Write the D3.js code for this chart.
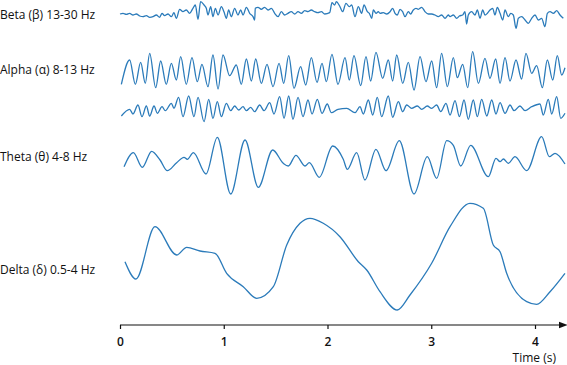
<!DOCTYPE html>
<html>
<head>
<meta charset="utf-8">
<script src="https://cdn.jsdelivr.net/npm/d3@7"></script>
<style>
  body { margin: 0; background: #fff; }
  svg text { font-family: "Open Sans", "Noto Sans", sans-serif; fill: #111; }
</style>
</head>
<body>
<div id="chart"></div>
<script>
const w = 567;
const h = 365;

// band labels
const bandLabels = ["Beta (\u03b2) 13-30 Hz", "Alpha (\u03b1) 8-13 Hz", "Theta (\u03b8) 4-8 Hz", "Delta (\u03b4) 0.5-4 Hz"];
const tickValues = [0, 1, 2, 3, 4];
const axisTitle = "Time (s)";

// [time (s), amplitude]
const beta = [
  [0.000, 0], [0.029, 0.7], [0.061, -0.3], [0.093, 0.7], [0.125, -1], [0.157, 0], [0.190, -2], [0.222, -2.7],
  [0.254, -1.7], [0.286, -3.3], [0.318, -2.7], [0.350, -1], [0.382, -3.3], [0.405, 0.7], [0.430, -1.7], [0.463, 0],
  [0.495, -2.7], [0.520, 1.3], [0.543, -4.3], [0.575, 4.7], [0.607, 2.3], [0.639, 4], [0.671, 0.7], [0.703, 5.7],
  [0.726, 9], [0.752, -5.3], [0.777, 12.3], [0.810, 9], [0.832, 5.7], [0.848, -1], [0.874, 7.3], [0.896, -2.7],
  [0.919, 5.7], [0.945, -1], [0.977, 7.3], [1.002, 2.3], [1.025, -4.3], [1.047, 4], [1.073, -2.7], [1.105, 5.7],
  [1.137, -1], [1.163, 4], [1.186, -1], [1.218, 6.7], [1.250, 0.7], [1.282, -2.7], [1.298, -6], [1.304, 5.7],
  [1.330, 6.7], [1.362, 4.7], [1.394, 6.7], [1.427, 4], [1.459, 5.7], [1.491, 0.7], [1.523, -2.7], [1.555, 2.3],
  [1.587, -1], [1.619, 0.7], [1.651, 2.3], [1.684, 0], [1.716, 2.3], [1.748, 0.7], [1.780, 3.3], [1.812, 2.3],
  [1.844, 4], [1.876, 2.3], [1.908, 1.3], [1.941, 2.3], [1.973, 0], [2.021, 1.3], [2.043, 11.3], [2.069, 9],
  [2.085, 12.3], [2.117, 8], [2.146, 2.3], [2.178, 10.7], [2.210, 7.3], [2.233, 9], [2.265, -2.7], [2.297, 7.3],
  [2.329, 0.7], [2.352, 9], [2.384, 2.3], [2.403, 0.7], [2.426, -4.3], [2.442, 4], [2.468, 0.7], [2.490, 2.3],
  [2.506, 0.7], [2.538, 1.3], [2.571, 0], [2.603, 2.3], [2.628, 5.7], [2.651, 0.7], [2.673, -1], [2.699, 4.7],
  [2.724, 2.3], [2.747, -2.7], [2.779, 2.3], [2.801, 0], [2.827, 4], [2.853, 5.7], [2.875, 4.7], [2.908, 6.7],
  [2.940, 2.3], [2.972, 0], [3.004, 0], [3.036, -1], [3.068, -2.7], [3.100, -1], [3.133, -4.3], [3.165, -1],
  [3.181, -2.7], [3.213, -1], [3.245, -4.3], [3.271, -2], [3.303, -1], [3.325, 2.3], [3.341, -10], [3.357, -1],
  [3.389, 2.3], [3.422, -1], [3.444, 4], [3.470, -4.3], [3.496, 4], [3.518, -1], [3.541, 0.7], [3.566, 4],
  [3.592, 5.7], [3.614, -1], [3.637, 6.7], [3.663, 0.7], [3.689, -6], [3.711, 4], [3.743, -2.7], [3.766, 0.7],
  [3.791, -1], [3.817, -14.3], [3.840, -4.3], [3.872, -2.7], [3.904, -6], [3.936, -9.3], [3.968, -4.3], [4.000, -1],
  [4.032, -6], [4.064, -4.3], [4.096, -12.7], [4.119, 0.7], [4.145, 2.3], [4.177, 0.7], [4.209, 3.3], [4.241, -1],
  [4.273, -4.3]
];

const alpha1 = [
  [0.013, -14.3], [0.093, 10], [0.148, -14.3], [0.199, 7.7], [0.244, -13.3], [0.286, 16.7], [0.344, -17.7], [0.392, 9],
  [0.446, -14.3], [0.495, 6.7], [0.543, -10], [0.585, 13.3], [0.639, -14.3], [0.694, 12.3], [0.745, -11.7], [0.790, 5.7],
  [0.848, -16.7], [0.896, 15], [0.945, -19], [0.993, 15], [1.057, -5.7], [1.121, 5], [1.169, -14.3], [1.218, 11],
  [1.266, -11], [1.308, 11], [1.362, -13.3], [1.417, 5.7], [1.475, -16.7], [1.533, 6.7], [1.578, -13.3], [1.626, 14.3],
  [1.677, -18.3], [1.741, 3.3], [1.790, -15], [1.844, 12.3], [1.899, -12.3], [1.947, 6.7], [1.989, -11.7], [2.043, 15.7],
  [2.101, -14.3], [2.169, 12.3], [2.210, -10], [2.255, 14.3], [2.320, -15.7], [2.371, 13.3], [2.416, -11], [2.467, 17.7],
  [2.532, -8.3], [2.586, 10], [2.628, -11], [2.667, 15], [2.725, -13.3], [2.779, 7.7], [2.834, -20], [2.892, 13.3],
  [2.949, -11.7], [3.004, 9], [3.052, -17.7], [3.100, 16.7], [3.155, -16.7], [3.213, 12.3], [3.251, -7.7], [3.303, 5.7],
  [3.351, -17.7], [3.399, 18.3], [3.454, -13.3], [3.518, 11.7], [3.566, -8.3], [3.621, 11], [3.663, -13.3], [3.711, 12.3],
  [3.759, -11], [3.817, 10], [3.871, -9], [3.913, 16.7], [3.968, -3.3], [4.016, 4.3], [4.071, -17.7], [4.119, 10],
  [4.171, -10], [4.215, 14.3], [4.257, -5], [4.289, 2.3]
];

const alpha2 = [
  [0.013, -8], [0.093, -1.3], [0.125, -6], [0.173, 3], [0.212, -8.7], [0.254, 2], [0.286, -8], [0.328, 2],
  [0.360, -5.3], [0.405, 1.3], [0.437, -2.7], [0.495, 4.7], [0.520, -0.3], [0.565, 10.7], [0.607, -8.7], [0.662, 12],
  [0.713, -8.7], [0.752, 10.7], [0.810, -13.7], [0.855, 8.7], [0.896, -10.3], [0.938, 6.3], [0.977, -8.7], [1.025, 4.7],
  [1.067, -2.7], [1.105, 2], [1.144, -2], [1.186, 1.3], [1.218, -2.7], [1.260, 0.7], [1.298, -3.7], [1.346, 3],
  [1.388, -2.7], [1.443, 5.3], [1.484, -6], [1.539, 11.3], [1.581, -10.3], [1.626, 12], [1.667, -11.3], [1.716, 10.7],
  [1.764, -8.7], [1.812, 8], [1.851, -6], [1.902, 8.7], [1.947, -5.3], [1.998, 4], [2.037, -4.7], [2.101, -1.3],
  [2.185, -0.3], [2.265, -4.7], [2.313, 1.3], [2.345, -6], [2.393, 8], [2.436, -7], [2.480, 10.7], [2.522, -8.7],
  [2.586, 12], [2.628, -9.3], [2.683, 6.3], [2.725, -3.7], [2.763, 3], [2.811, -0.3], [2.866, 2], [2.908, -1.3],
  [2.962, 2], [3.004, -0.3], [3.052, 3], [3.091, -3.7], [3.142, 4.7], [3.181, -7], [3.229, 7.3], [3.271, -8.7],
  [3.316, 8], [3.357, -11.3], [3.405, 8], [3.444, -8.7], [3.486, 8.7], [3.535, -8], [3.583, 8], [3.624, -6],
  [3.663, 5.3], [3.711, -5.3], [3.759, 3], [3.798, -2.7], [3.855, 2], [3.904, -2.7], [3.968, 1.3], [4.048, 4],
  [4.080, -7], [4.128, 8.7], [4.161, -6], [4.209, 11.3], [4.248, -10.3], [4.289, -5.3]
];

const theta = [
  [0.039, -6.7], [0.129, 7.3], [0.215, -7.3], [0.305, 8.7], [0.386, 0], [0.456, -10.7], [0.546, -2.7], [0.617, 2.7],
  [0.649, 0.7], [0.707, 7.3], [0.829, -14], [0.938, 22.7], [1.067, -34], [1.205, 20], [1.333, -27.3], [1.472, 10],
  [1.574, -3.3], [1.622, -6], [1.696, 4.7], [1.783, -6], [1.825, -2.7], [1.921, -17.3], [2.050, 14], [2.152, 0.7],
  [2.191, -9.3], [2.281, 7.3], [2.361, -20], [2.467, 10.7], [2.564, -10.7], [2.692, 19.3], [2.834, -34], [2.962, 3.3],
  [3.052, -18.3], [3.149, 19.3], [3.213, 14.7], [3.284, -6], [3.380, 14.7], [3.550, -16.7], [3.624, 1.7], [3.663, -1.7],
  [3.695, 1], [3.743, -3.3], [3.807, 3.3], [3.920, -10.7], [4.064, 23.3], [4.138, 3.3], [4.193, 6.7], [4.289, -4]
];

const delta = [
  [0.048, -1.7], [0.154, -19], [0.337, 33.3], [0.547, 5], [0.643, 12.7], [0.771, 9], [0.916, 6.7], [1.028, -13.3],
  [1.188, -26.7], [1.318, -38.3], [1.478, -26.7], [1.607, 15], [1.735, 36.7], [1.831, 41.7], [1.959, 36.7], [2.120, 23.3],
  [2.297, -1.7], [2.378, -10], [2.506, -31.7], [2.673, -50], [2.795, -35], [3.004, -3.3], [3.181, 33.3], [3.373, 56.7],
  [3.502, 51.7], [3.598, 15], [3.663, 8.3], [3.727, -13.3], [3.920, -41.7], [4.016, -44.3], [4.145, -31.7], [4.289, -13.3]
];

const traces = [
  {data: beta, base: 14},
  {data: alpha1, base: 70},
  {data: alpha2, base: 108},
  {data: theta, base: 160},
  {data: delta, base: 260}
];
const labelY = [15, 70, 157, 270];

const svg = d3.select("#chart")
    .append("svg")
        .attr("width", w)
        .attr("height", h);

const x = d3.scaleLinear()
    .domain([0, 4])
    .range([120, 535]);

const color = "#2b7bba";

traces.forEach(tr => {
    const y = d3.scaleLinear()
        .domain([-60, 60])
        .range([tr.base + 60, tr.base - 60]);
    const line = d3.line()
        .x(d => x(d[0]))
        .y(d => y(d[1]))
        .curve(d3.curveMonotoneX);
    svg.append("path")
        .datum(tr.data)
        .attr("fill", "none")
        .attr("stroke", color)
        .attr("stroke-width", 1.3)
        .attr("stroke-linejoin", "round")
        .attr("d", line);
});

// band labels
svg.selectAll("text.band")
    .data(bandLabels)
    .enter()
    .append("text")
        .attr("class", "band")
        .attr("x", 0)
        .attr("y", (d, i) => labelY[i])
        .attr("dy", "0.35em")
        .style("font-size", "12px")
        .text(d => d);

// time axis with arrow
svg.append("defs").append("marker")
    .attr("id", "arrow")
    .attr("viewBox", "0 0 10 10")
    .attr("refX", 0)
    .attr("refY", 5)
    .attr("markerWidth", 7)
    .attr("markerHeight", 7)
    .attr("orient", "auto")
    .append("path")
        .attr("d", "M0,1L10,5L0,9Z")
        .attr("fill", "#111");

const axisY = 325;
const xAxis = svg.append("g")
    .attr("transform", "translate(0," + axisY + ")")
    .call(d3.axisBottom(x).tickValues(tickValues).tickSizeInner(4).tickSizeOuter(0).tickFormat(d3.format("d")));
xAxis.select(".domain").remove();
xAxis.selectAll(".tick line").attr("stroke", "#111").attr("stroke-width", 1.2);
xAxis.selectAll(".tick text")
    .attr("y", 12)
    .style("font-size", "12px")
    .style("font-weight", "600")
    .attr("fill", "#111");

svg.append("line")
    .attr("x1", x(0))
    .attr("x2", 559)
    .attr("y1", axisY)
    .attr("y2", axisY)
    .attr("stroke", "#111")
    .attr("stroke-width", 1.2)
    .attr("marker-end", "url(#arrow)");

svg.append("text")
    .attr("x", 556)
    .attr("y", 358)
    .attr("dy", "0.35em")
    .attr("text-anchor", "end")
    .style("font-size", "12px")
    .text(axisTitle);
</script>
</body>
</html>
